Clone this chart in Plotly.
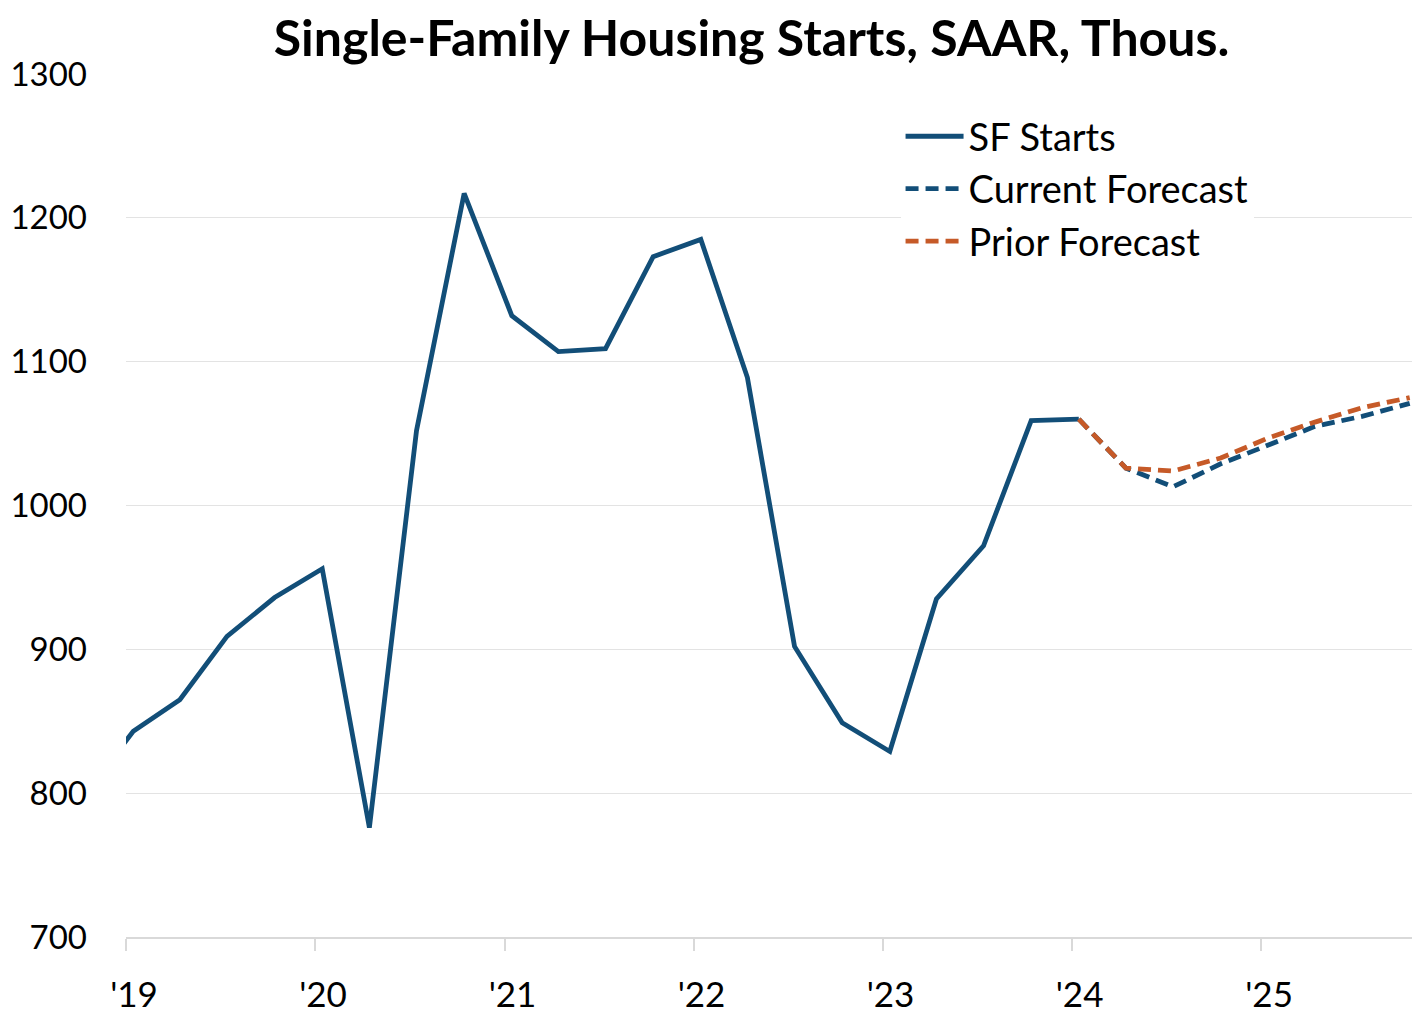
import plotly.graph_objects as go

dates = ["2018-10-15", "2019-01-15", "2019-04-15", "2019-07-15", "2019-10-15",
         "2020-01-15", "2020-04-15", "2020-07-15", "2020-10-15",
         "2021-01-15", "2021-04-15", "2021-07-15", "2021-10-15",
         "2022-01-15", "2022-04-15", "2022-07-15", "2022-10-15",
         "2023-01-15", "2023-04-15", "2023-07-15", "2023-10-15",
         "2024-01-15"]
sf_starts = [800, 843, 865, 909, 936,
             956, 776, 1052, 1217,
             1132, 1107, 1109, 1173,
             1185, 1089, 902, 849,
             829, 935, 972, 1059,
             1060]

fc_dates = ["2024-01-15", "2024-04-15", "2024-07-15", "2024-10-15",
            "2025-01-15", "2025-04-15", "2025-07-15", "2025-10-15"]
current_fc = [1060, 1026, 1013, 1029, 1042, 1055, 1062, 1071]
prior_fc = [1060, 1026, 1024, 1033, 1047, 1058, 1068, 1075]

tick_vals = ["2019-01-01", "2020-01-01", "2021-01-01", "2022-01-01",
             "2023-01-01", "2024-01-01", "2025-01-01"]
tick_text = ["'19", "'20", "'21", "'22", "'23", "'24", "'25"]

BLUE = "#124E78"
ORANGE = "#C65A28"
FONT = "Lato"

fig = go.Figure()
fig.add_trace(go.Scatter(x=dates, y=sf_starts, mode="lines", name="SF Starts",
                         line=dict(color=BLUE, width=4.8)))
fig.add_trace(go.Scatter(x=fc_dates, y=current_fc, mode="lines", name="Current Forecast",
                         line=dict(color=BLUE, width=4.8, dash="13px,7px")))
fig.add_trace(go.Scatter(x=fc_dates, y=prior_fc, mode="lines", name="Prior Forecast",
                         line=dict(color=ORANGE, width=4.8, dash="13px,7px")))

fig.update_layout(
    width=1412, height=1022,
    margin=dict(l=118, r=2, t=66, b=93),
    paper_bgcolor="white", plot_bgcolor="white",
    font=dict(family=FONT, color="black", size=33),
    title=dict(text="<b>Single-Family Housing Starts, SAAR, Thous.</b>",
               x=0.5266, xanchor="center", y=0.9706, yanchor="middle",
               font=dict(family=FONT, size=50, color="black")),
    legend=dict(x=0.5995, y=0.964, xanchor="left", yanchor="top",
                bgcolor="white", font=dict(family=FONT, size=38),
                itemwidth=58, tracegroupgap=0),
    showlegend=True,
)
fig.update_xaxes(type="date", range=["2019-01-01", "2025-10-31"],
                 tickvals=tick_vals, ticktext=tick_text,
                 showgrid=False, showline=True, linecolor="#D9D9D9", linewidth=1.5,
                 ticks="outside", ticklen=12, tickcolor="#D9D9D9", tickwidth=1.5,
                 ticklabelstandoff=14, ticklabelshift=8, tickfont=dict(size=35),
                 zeroline=False, automargin=False)
fig.update_yaxes(range=[700, 1300], dtick=100, showgrid=True, gridcolor="#E3E3E3",
                 gridwidth=1.2, zeroline=False, ticks="", ticklabelstandoff=38,
                 tickfont=dict(size=33), showline=False, automargin=False)

fig.write_html("out.html")
